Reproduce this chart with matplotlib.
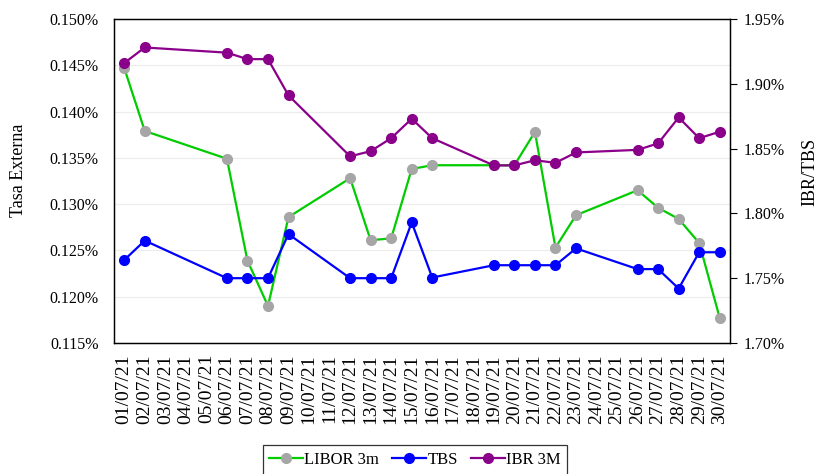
import matplotlib
matplotlib.use("Agg")
import matplotlib.pyplot as plt
from matplotlib.ticker import FuncFormatter, MultipleLocator
import numpy as np

plt.rcParams['font.family'] = ['Liberation Serif', 'DejaVu Serif']

dates = [f"{d:02d}/07/21" for d in range(1, 31)]

libor_days = [1, 2, 6, 7, 8, 9, 12, 13, 14, 15, 16, 19, 20, 21, 22, 23, 26, 27, 28, 29, 30]
libor_vals = [0.1447, 0.1379, 0.1349, 0.1239, 0.1190, 0.1286, 0.1328, 0.1261, 0.1263,
              0.1338, 0.1342, 0.1342, 0.1342, 0.1378, 0.1253, 0.1288, 0.1315, 0.1296,
              0.1284, 0.1258, 0.1177]

tbs_days = [1, 2, 6, 7, 8, 9, 12, 13, 14, 15, 16, 19, 20, 21, 22, 23, 26, 27, 28, 29, 30]
tbs_vals = [1.764, 1.779, 1.750, 1.750, 1.750, 1.784, 1.750, 1.750, 1.750, 1.793, 1.7505,
            1.760, 1.760, 1.760, 1.760, 1.773, 1.757, 1.757, 1.742, 1.770, 1.770]

ibr_days = [1, 2, 6, 7, 8, 9, 12, 13, 14, 15, 16, 19, 20, 21, 22, 23, 26, 27, 28, 29, 30]
ibr_vals = [1.916, 1.928, 1.924, 1.919, 1.919, 1.891, 1.844, 1.848, 1.858, 1.873, 1.858,
            1.837, 1.837, 1.841, 1.839, 1.847, 1.849, 1.854, 1.874, 1.858, 1.863]

fig = plt.figure(figsize=(8.17, 4.74), dpi=100)
ax = fig.add_axes([0.1395, 0.2764, 0.754, 0.6836])
ax2 = ax.twinx()

lx = [d - 1 for d in libor_days]
tx = [d - 1 for d in tbs_days]
ix = [d - 1 for d in ibr_days]

l1, = ax.plot(lx, libor_vals, color='#00cc00', lw=1.6, marker='o', ms=7,
              mfc='#a6a6a6', mec='#a6a6a6', label='LIBOR 3m', zorder=3)
l2, = ax2.plot(tx, tbs_vals, color='#0000ff', lw=1.6, marker='o', ms=7,
               mfc='#0000ff', mec='#0000ff', label='TBS', zorder=3)
l3, = ax2.plot(ix, ibr_vals, color='#8b008b', lw=1.6, marker='o', ms=7,
               mfc='#8b008b', mec='#8b008b', label='IBR 3M', zorder=4)

ax.set_xlim(-0.5, 29.5)
ax.set_ylim(0.115, 0.150)
ax2.set_ylim(1.70, 1.95)
ax.yaxis.set_major_locator(MultipleLocator(0.005))
ax2.yaxis.set_major_locator(MultipleLocator(0.05))
ax.yaxis.set_major_formatter(FuncFormatter(lambda v, p: f"{v:.3f}%"))
ax2.yaxis.set_major_formatter(FuncFormatter(lambda v, p: f"{v:.2f}%"))

ax.set_xticks(range(30))
ax.set_xticklabels(dates, rotation=90, fontsize=14)
ax.tick_params(axis='x', length=0, pad=8)
ax.tick_params(axis='y', length=0, labelsize=11.5, pad=11)
ax2.tick_params(axis='y', length=5, direction='out', labelsize=11.5, pad=5, color='black')

ax.grid(axis='y', color='#ececec', lw=0.8)
ax.set_axisbelow(True)
for sp in ax.spines.values():
    sp.set_color('black')
    sp.set_linewidth(0.9)
for sp in ax2.spines.values():
    sp.set_color('black')
    sp.set_linewidth(0.9)

ax.set_ylabel('Tasa Externa', fontsize=13)
ax2.set_ylabel('IBR/TBS', fontsize=13)
ax.yaxis.set_label_coords(-0.141, 0.534)
ax2.yaxis.set_label_coords(1.116, 0.528)

leg = fig.legend(handles=[l1, l2, l3], loc='upper center', bbox_to_anchor=(0.508, 0.078),
                 ncol=3, frameon=True, fontsize=12, handlelength=2.0, handletextpad=0.1,
                 columnspacing=0.8, fancybox=False, borderpad=0.4)
leg.get_frame().set_edgecolor('black')
leg.get_frame().set_linewidth(0.9)

fig.savefig('out.png', dpi=100)
